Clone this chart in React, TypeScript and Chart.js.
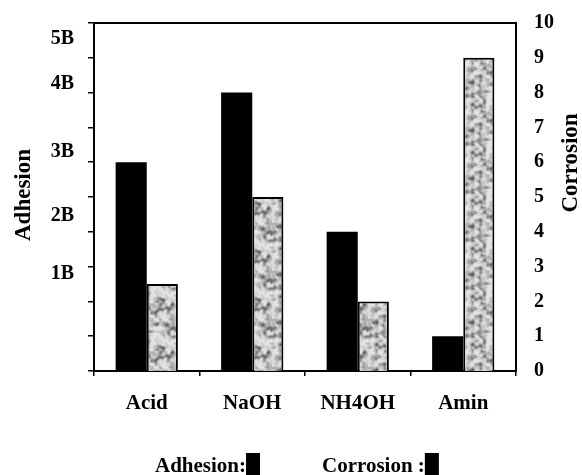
import React, { useEffect, useRef } from "react";
import { Chart, registerables } from "chart.js";

Chart.register(...registerables);

const categories = ["Acid", "NaOH", "NH4OH", "Amin"];
const adhesionValues = [6, 8, 4, 1];
const corrosionValues = [2.5, 5, 2, 9];
const adhesionTickLabels = ["1B", "2B", "3B", "4B", "5B"];
const adhesionTickValues = [2.8, 4.45, 6.3, 8.25, 9.55];
const axisTitles = ["Adhesion", "Corrosion"];
const legendLabels = ["Adhesion:", "Corrosion :"];

const FONT = "'Liberation Serif', 'Times New Roman', serif";

function hash(ix: number, iy: number): number {
  const s = Math.sin(ix * 127.1 + iy * 311.7) * 43758.5453;
  return s - Math.floor(s);
}

function valueNoise(x: number, y: number, cell: number, period: number): number {
  const fx = x / cell;
  const fy = y / cell;
  const x0 = Math.floor(fx);
  const y0 = Math.floor(fy);
  const tx = fx - x0;
  const ty = fy - y0;
  const sx = tx * tx * (3 - 2 * tx);
  const sy = ty * ty * (3 - 2 * ty);
  const w = (v: number) => ((v % period) + period) % period;
  const a = hash(w(x0), w(y0));
  const b = hash(w(x0 + 1), w(y0));
  const c = hash(w(x0), w(y0 + 1));
  const d = hash(w(x0 + 1), w(y0 + 1));
  return (a * (1 - sx) + b * sx) * (1 - sy) + (c * (1 - sx) + d * sx) * sy;
}

function makeGranite(): CanvasPattern | string {
  const N = 48;
  const c = document.createElement("canvas");
  c.width = N;
  c.height = N;
  const ctx = c.getContext("2d");
  if (!ctx) return "#bdbdbd";
  const img = ctx.createImageData(N, N);
  for (let y = 0; y < N; y++) {
    for (let x = 0; x < N; x++) {
      const n =
        0.5 * valueNoise(x, y, 4, N / 4) +
        0.32 * valueNoise(x + 17, y + 5, 3, N / 3) +
        0.18 * valueNoise(x + 3, y + 11, 2, N / 2);
      const t = Math.max(0, Math.min(1, (n - 0.25) / 0.5));
      const g = Math.round(228 - Math.pow(1 - t, 1.8) * 125);
      const i = (y * N + x) * 4;
      img.data[i] = g;
      img.data[i + 1] = g;
      img.data[i + 2] = g;
      img.data[i + 3] = 255;
    }
  }
  ctx.putImageData(img, 0, 0);
  const p = ctx.createPattern(c, "repeat");
  return p || "#bdbdbd";
}

const decorPlugin = {
  id: "decor",
  afterDraw(chart: any) {
    const { ctx, chartArea } = chart;
    const yScale = chart.scales.y;
    ctx.save();
    // top border
    ctx.strokeStyle = "#000";
    ctx.lineWidth = 2;
    ctx.beginPath();
    ctx.moveTo(chartArea.left - 1, chartArea.top);
    ctx.lineTo(chartArea.right + 1, chartArea.top);
    ctx.stroke();

    // left tick labels
    ctx.fillStyle = "#000";
    ctx.font = `bold 20px ${FONT}`;
    ctx.textAlign = "right";
    ctx.textBaseline = "middle";
    adhesionTickLabels.forEach((lab, i) => {
      ctx.fillText(lab, 74, yScale.getPixelForValue(adhesionTickValues[i]));
    });

    // axis titles
    ctx.font = `bold 23px ${FONT}`;
    ctx.textAlign = "center";
    ctx.textBaseline = "middle";
    ctx.save();
    ctx.translate(24, 195);
    ctx.rotate(-Math.PI / 2);
    ctx.fillText(axisTitles[0], 0, 0);
    ctx.restore();
    ctx.save();
    ctx.translate(571, 163);
    ctx.rotate(-Math.PI / 2);
    ctx.fillText(axisTitles[1], 0, 0);
    ctx.restore();

    // legend
    ctx.font = `bold 21px ${FONT}`;
    ctx.textAlign = "left";
    ctx.textBaseline = "alphabetic";
    const starts = [155, 322];
    legendLabels.forEach((lab, i) => {
      ctx.fillText(lab, starts[i], 472);
      const w = ctx.measureText(lab).width;
      ctx.fillRect(starts[i] + w, 453, 14, 24);
    });
    ctx.restore();
  },
};

export default function App() {
  const ref = useRef<HTMLCanvasElement | null>(null);

  useEffect(() => {
    if (!ref.current) return;
    const granite = makeGranite();
    const chart = new Chart(ref.current, {
      type: "bar",
      data: {
        labels: categories,
        datasets: [
          {
            label: "Adhesion",
            data: adhesionValues,
            backgroundColor: "#000",
            borderColor: "#000",
            borderWidth: 0,
            yAxisID: "y",
          },
          {
            label: "Corrosion",
            data: corrosionValues,
            backgroundColor: granite as any,
            borderColor: "#000",
            borderWidth: 2,
            yAxisID: "y1",
          },
        ],
      },
      options: {
        responsive: false,
        animation: false,
        devicePixelRatio: 1,
        layout: { padding: { top: 23, left: 0, right: 0, bottom: 0 } },
        datasets: {
          bar: { categoryPercentage: 0.59, barPercentage: 1.0 },
        },
        plugins: {
          legend: { display: false },
          tooltip: { enabled: false },
          title: { display: false },
        },
        scales: {
          x: {
            offset: true,
            grid: {
              display: true,
              drawOnChartArea: false,
              drawTicks: true,
              tickLength: 5,
              color: "#000",
              lineWidth: 1.5,
              offset: true,
            },
            border: { display: true, color: "#000", width: 2 },
            ticks: {
              color: "#000",
              padding: 15,
              font: { family: FONT, size: 21, weight: "bold" },
            },
            afterFit: (s: any) => {
              s.height = 104;
            },
          },
          y: {
            position: "left",
            min: 0,
            max: 10,
            ticks: {
              stepSize: 1,
              callback: () => "",
              font: { family: FONT, size: 20, weight: "bold" },
            },
            grid: {
              display: true,
              drawOnChartArea: false,
              drawTicks: true,
              tickLength: 6,
              color: "#000",
              lineWidth: 1.5,
            },
            border: { display: true, color: "#000", width: 2 },
            afterFit: (s: any) => {
              s.width = 94;
            },
          },
          y1: {
            position: "right",
            min: 0,
            max: 10,
            ticks: {
              stepSize: 1,
              color: "#000",
              padding: 10,
              font: { family: FONT, size: 20, weight: "bold" },
            },
            grid: { display: false, drawOnChartArea: false },
            border: { display: true, color: "#000", width: 2 },
            afterFit: (s: any) => {
              s.width = 66;
            },
          },
        },
      } as any,
      plugins: [decorPlugin],
    });
    return () => chart.destroy();
  }, []);

  return (
    <div style={{ position: "absolute", left: 0, top: 0, width: 582, height: 475, background: "#fff" }}>
      <canvas ref={ref} width={582} height={475} style={{ display: "block", width: 582, height: 475 }} />
    </div>
  );
}
